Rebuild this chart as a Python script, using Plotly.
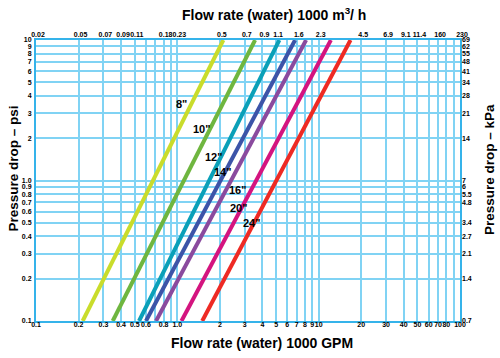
import math
import plotly.graph_objects as go

# ---- data ----
sizes = ['8"', '10"', '12"', '14"', '16"', '20"', '24"']
colors = ["#c9dc2b", "#6fb63f", "#0aa0b8", "#3c54a8", "#8a4a9e", "#d4147f", "#ee2a24"]
# flow (1000 GPM) at 0.1 psi and at 10 psi
flow_low = [0.214, 0.349, 0.536, 0.600, 0.707, 1.07, 1.50]
flow_high = [2.116, 3.55, 5.27, 6.81, 8.15, 12.2, 16.8]
psi_ends = [0.1, 10]
label_x = [1.074, 1.49, 1.80, 2.10, 2.66, 2.70, 3.36]
label_y = [3.52, 2.33, 1.47, 1.146, 0.849, 0.640, 0.497]

gpm_grid = [0.1, 0.2, 0.3, 0.4, 0.5, 0.6, 0.7, 0.8, 0.9, 1, 2, 3, 4, 5, 6, 7, 8, 9,
            10, 20, 30, 40, 50, 60, 70, 80, 90, 100]
gpm_text = ["0.1", "0.2", "0.3", "0.4", "0.5", "0.6", "", "0.8", "", "1.0", "2", "3", "4", "5",
            "6", "7", "8", "9", "10", "20", "30", "40", "50", "60", "70", "80", "", "100"]
m3h_vals = [0.1, 0.2, 0.3, 0.4, 0.5, 0.8, 1, 2, 3, 4, 5, 7, 10, 20, 30, 40, 50, 70, 100]
m3h_text = ["0.02", "0.05", "0.07", "0.09", "0.11", "0.18", "0.23", "0.5", "0.7", "0.9",
            "1.1", "1.6", "2.3", "4.5", "6.9", "9.1", "11.4", "160", "230"]
psi_vals = [0.1, 0.2, 0.3, 0.4, 0.5, 0.6, 0.7, 0.8, 0.9, 1, 2, 3, 4, 5, 6, 7, 8, 9, 10]
psi_text = ["0.1", "0.2", "0.3", "0.4", "0.5", "0.6", "0.7", "0.8", "0.9", "1.0",
            "2", "3", "4", "5", "6", "7", "8", "9", "10"]
kpa_vals = [0.1, 0.2, 0.3, 0.4, 0.5, 0.7, 0.8, 0.9, 1, 2, 3, 4, 5, 6, 7, 8, 9, 10]
kpa_text = ["0.7", "1.4", "2.1", "2.7", "3.4", "4.8", "5.5", "6", "7",
            "14", "21", "28", "34", "41", "48", "55", "62", "69"]

FONT = "Liberation Sans, Arial, sans-serif"
GRID = "#80d3f4"
FRAME = "#35b3ea"

W, H = 500, 358
ML, MR, MT, MB = 36, 40, 40, 37
PW, PH = W - ML - MR, H - MT - MB


def px_x(px):
    return (px - ML) / PW


def px_y(py):
    return (H - MB - py) / PH


fig = go.Figure()
for name, c, lo, hi in zip(sizes, colors, flow_low, flow_high):
    fig.add_trace(go.Scatter(x=[lo, hi], y=psi_ends, mode="lines",
                             line=dict(color=c, width=4), name=name,
                             showlegend=False, hoverinfo="skip"))
# invisible trace for secondary axes
fig.add_trace(go.Scatter(x=[1], y=[1], xaxis="x2", yaxis="y2", mode="markers",
                         marker=dict(opacity=0), showlegend=False, hoverinfo="skip"))

for t, x, y in zip(sizes, label_x, label_y):
    fig.add_annotation(x=math.log10(x), y=math.log10(y), xref="x", yref="y", text=t,
                       showarrow=False,
                       font=dict(family=FONT, size=11, color="black", weight="bold"))

tickfont = dict(family=FONT, size=7, color="black", weight="bold")
fig.update_layout(
    width=W, height=H,
    margin=dict(l=ML, r=MR, t=MT, b=MB),
    plot_bgcolor="white", paper_bgcolor="white",
    xaxis=dict(type="log", range=[-1, 2], tickvals=gpm_grid, ticktext=gpm_text,
               showgrid=True, gridcolor=GRID, gridwidth=1.5, tickangle=0,
               showline=True, linecolor=FRAME, linewidth=2, mirror=True,
               ticks="", tickfont=tickfont, zeroline=False, ticklabelstandoff=-4),
    yaxis=dict(type="log", range=[-1, 1], tickvals=psi_vals, ticktext=psi_text,
               showgrid=True, gridcolor=GRID, gridwidth=1.5,
               showline=True, linecolor=FRAME, linewidth=2, mirror=True,
               ticks="", tickfont=tickfont, zeroline=False, ticklabelstandoff=1),
    xaxis2=dict(type="log", range=[-1, 2], overlaying="x", side="top", anchor="y",
                tickvals=m3h_vals, ticktext=m3h_text, showgrid=False, ticks="",
                tickangle=0, tickfont=tickfont, showline=False, zeroline=False,
                ticklabelstandoff=1, ticklabelshift=2),
    yaxis2=dict(type="log", range=[-1, 1], overlaying="y", side="right", anchor="x",
                tickvals=kpa_vals, ticktext=kpa_text, showgrid=False, ticks="",
                tickfont=tickfont, showline=False, zeroline=False, ticklabelstandoff=1),
)

titlefont = dict(family=FONT, size=14, color="black", weight="bold")
sidefont = dict(family=FONT, size=13.5, color="black", weight="bold")
fig.add_annotation(x=px_x(261.5), y=px_y(343), xref="paper", yref="paper",
                   text="Flow rate (water) 1000 GPM", showarrow=False, font=titlefont,
                   xanchor="center", yanchor="middle")
fig.add_annotation(x=px_x(274), y=px_y(14), xref="paper", yref="paper",
                   text="Flow rate (water) 1000 m<sup>3</sup>/ h", showarrow=False,
                   font=titlefont, xanchor="center", yanchor="middle")
fig.add_annotation(x=px_x(12.5), y=px_y(169), xref="paper", yref="paper",
                   text="Pressure drop – psi", showarrow=False, textangle=-90,
                   font=sidefont, xanchor="center", yanchor="middle")
fig.add_annotation(x=px_x(489), y=px_y(170), xref="paper", yref="paper",
                   text="Pressure drop – kPa", showarrow=False, textangle=-90,
                   font=sidefont, xanchor="center", yanchor="middle")

fig.write_html("out.html", config={"displayModeBar": False},
               post_script="document.body.style.margin='0';document.body.style.padding='0';")
